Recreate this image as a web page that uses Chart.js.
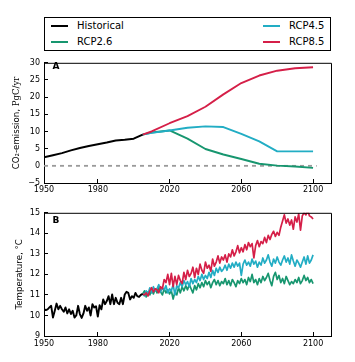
<!DOCTYPE html>
<html><head><meta charset="utf-8">
<script src="https://cdn.jsdelivr.net/npm/chart.js@4.4.1/dist/chart.umd.min.js"></script>
<style>
html,body{margin:0;padding:0;background:#fff;width:355px;height:362px;overflow:hidden;font-family:"DejaVu Sans",sans-serif;}
#legend{position:absolute;left:44px;top:17px;width:285px;height:32px;border:1px solid #000;}
.item{position:absolute;font-size:10px;line-height:12px;color:#000;white-space:nowrap;}
.sw{position:absolute;width:17px;height:2px;}
canvas{position:absolute;left:0;}
</style></head><body>
<div id="legend"></div>
<canvas id="a" width="355" height="150" style="top:50px"></canvas>
<canvas id="b" width="355" height="162" style="top:200px"></canvas>
<script>
// ---------- data ----------
const seriesNames = ['Historical', 'RCP2.6', 'RCP4.5', 'RCP8.5'];
const seriesColors = ['#000000', '#17966f', '#22adc4', '#d51f48'];

const xTicks = [1950, 1980, 2020, 2060, 2100];
const emisYTicks = [-5, 0, 5, 10, 15, 20, 25, 30];
const tempYTicks = [9, 10, 11, 12, 13, 14, 15];

const histEmisYears = [1950, 1955, 1960, 1965, 1970, 1975, 1980, 1985, 1990, 1995, 2000, 2005];
const histEmis      = [2.5, 3.1, 3.7, 4.5, 5.2, 5.8, 6.3, 6.8, 7.4, 7.6, 7.9, 9.1];

const scenEmisYears = [2005, 2010, 2020, 2030, 2040, 2050, 2060, 2070, 2080, 2090, 2100];
const rcp26Emis = [9.1, 9.7, 10.3, 7.9, 4.9, 3.3, 2.0, 0.6, 0.05, -0.2, -0.6];
const rcp45Emis = [9.1, 9.6, 10.3, 11.1, 11.5, 11.3, 9.3, 7.1, 4.2, 4.2, 4.2];
const rcp85Emis = [9.1, 10.0, 12.4, 14.5, 17.2, 20.8, 24.1, 26.3, 27.7, 28.4, 28.7];

const zeroLineYears = [1950, 2102];
const zeroLineValues = [0, 0];

const histTempStart = 1950;
const histTemp = [10.31, 10.26, 10.3, 10.39, 10.47, 9.9, 10.23, 10.58, 10.3, 10.47,
  10.3, 10.18, 10.39, 10.1, 10.3, 10.07, 10.23, 9.9, 10.0, 10.47,
  10.07, 9.88, 10.1, 10.47, 10.23, 10.39, 10.0, 10.55, 10.39, 10.45,
  9.95, 10.5, 10.3, 10.78, 10.55, 10.7, 10.94, 10.55, 11.02, 10.55,
  10.86, 10.62, 10.55, 10.86, 10.55, 11.02, 11.15, 11.1, 10.78, 10.94,
  10.86, 11.1, 10.94, 10.9, 11.0, 11.05];

const scenTempStart = 2005;
const rcp85Temp = [11.05, 11.0, 11.1, 10.95, 11.2, 11.35, 11.15, 11.3, 11.25, 11.1,
  11.4, 11.3, 11.75, 11.6, 12.0, 11.5, 12.05, 11.4, 11.9, 11.5,
  11.95, 11.7, 11.55, 12.1, 11.75, 12.2, 11.9, 12.05, 12.35, 11.85,
  12.3, 12.0, 12.5, 12.2, 12.05, 12.6, 12.3, 12.45, 12.15, 12.75,
  12.4, 12.6, 12.9, 12.55, 12.85, 12.7, 12.95, 12.6, 13.0, 12.85,
  13.2, 12.9, 13.1, 13.4, 13.05, 13.3, 13.1, 13.45, 13.2, 13.55,
  13.35, 13.5, 12.8, 13.4, 13.65, 13.35, 13.6, 13.5, 13.8, 13.55,
  13.9, 13.7, 13.95, 14.1, 13.85, 14.05, 13.9, 14.3, 14.6, 14.9,
  14.5, 14.7, 14.4, 14.65, 14.2, 14.8, 14.55, 14.95, 14.15, 14.85,
  15.0, 14.9, 15.1, 14.85, 14.8, 14.7];
const rcp45Temp = [11.05, 10.95, 11.2, 11.05, 11.35, 11.1, 11.4, 11.2, 11.3, 11.5,
  11.15, 11.35, 11.25, 11.45, 11.1, 11.3, 11.2, 11.5, 11.0, 11.45,
  11.35, 11.6, 11.4, 11.7, 11.5, 11.65, 11.4, 11.8, 11.55, 11.75,
  11.6, 11.9, 11.7, 12.0, 11.75, 11.95, 11.8, 12.1, 11.85, 12.2,
  11.95, 12.3, 12.1, 12.35, 12.15, 12.25, 12.45, 12.2, 12.5, 12.3,
  12.55, 12.35, 12.6, 12.4, 12.55, 11.95, 12.5, 12.7, 12.45, 12.6,
  12.4, 12.75, 12.5, 12.65, 12.35, 12.6, 12.45, 12.8, 12.55, 12.7,
  12.95, 12.6, 12.4, 12.75, 12.55, 12.85, 12.6, 12.45, 12.7, 12.9,
  12.6, 12.8, 12.5, 12.95, 12.65, 12.4, 12.7, 12.55, 12.35, 12.6,
  12.85, 12.5, 12.9, 12.55, 12.7, 12.95];
const rcp26Temp = [11.05, 11.2, 10.9, 11.15, 11.0, 11.25, 11.05, 11.3, 11.1, 11.35,
  11.15, 11.0, 11.3, 11.1, 11.25, 11.05, 11.2, 10.8, 11.15, 11.0,
  11.35, 11.1, 11.4, 11.2, 11.45, 11.25, 11.5, 11.3, 11.1, 11.45,
  11.25, 11.55, 11.35, 11.6, 11.4, 11.7, 11.5, 11.65, 11.35, 11.6,
  11.75, 11.5, 11.7, 11.45, 11.65, 11.55, 11.8, 11.5, 11.7, 11.45,
  11.75, 11.6, 11.4, 11.7, 11.55, 11.8, 11.6, 11.75, 11.5, 11.85,
  11.65, 12.0, 11.6, 11.75, 11.5, 11.8, 11.6, 11.9, 11.7, 11.85,
  12.05, 11.7, 11.45, 11.9, 12.1, 11.75, 11.95, 11.6, 11.8, 11.55,
  11.9, 11.7, 11.5, 11.65, 11.55, 11.75, 11.6, 11.85, 11.55, 11.7,
  11.95, 11.7, 11.85, 11.6, 11.75, 11.55];

// ---------- legend ----------
const legendPos = [[6, 32, 7, 2], [6, 32, 23, 18], [218, 244, 7, 2], [218, 244, 23, 18]];
const lg = document.getElementById('legend');
seriesNames.forEach((n, i) => {
  const p = legendPos[i];
  const sw = document.createElement('div');
  sw.className = 'sw'; sw.style.left = p[0] + 'px'; sw.style.top = p[2] + 'px';
  sw.style.background = seriesColors[i];
  lg.appendChild(sw);
  const t = document.createElement('div');
  t.className = 'item'; t.style.left = p[1] + 'px'; t.style.top = p[3] + 'px';
  t.textContent = n;
  lg.appendChild(t);
});

// ---------- helpers ----------
const pts = (ys, vs) => vs.map((v, i) => ({x: ys[i], y: v}));
const yearly = (start, vs) => vs.map((v, i) => ({x: start + i, y: v}));
const FONT = 'DejaVu Sans';
const tickFont = {family: FONT, size: 8};

function line(data, color, w, extra) {
  return Object.assign({data, borderColor: color, borderWidth: w, pointRadius: 0,
    tension: 0, fill: false, borderJoinStyle: 'round'}, extra || {});
}
function xScale(h, pad) {
  return {type: 'linear', min: 1950, max: 2110,
    afterBuildTicks: s => { s.ticks = xTicks.map(v => ({value: v})); },
    afterFit: s => { s.height = h; },
    grid: {drawOnChartArea: false, drawTicks: true, tickLength: -4, color: '#000', lineWidth: 1},
    border: {display: true, color: '#000', width: 1},
    ticks: {color: '#000', font: tickFont, padding: pad, maxRotation: 0, autoSkip: false,
      callback: v => String(v)}};
}
function yScale(min, max, ticks) {
  return {type: 'linear', min, max,
    afterBuildTicks: s => { s.ticks = ticks.map(v => ({value: v})); },
    afterFit: s => { s.width = 44; },
    grid: {drawOnChartArea: false, drawTicks: true, tickLength: -4, color: '#000', lineWidth: 1},
    border: {display: true, color: '#000', width: 1},
    ticks: {color: '#000', font: tickFont, padding: 8, autoSkip: false,
      callback: v => String(v).replace('-', '\u2212')}};
}
function decor(label, labelY, titleParts, titleX) {
  return {id: 'decor' + label, afterDraw(chart) {
    const ctx = chart.ctx, a = chart.chartArea;
    ctx.save();
    ctx.strokeStyle = '#000'; ctx.lineWidth = 1;
    ctx.beginPath();
    ctx.moveTo(a.left, a.top + 0.5); ctx.lineTo(a.right + 0.5, a.top + 0.5);
    ctx.lineTo(a.right + 0.5, a.bottom);
    ctx.stroke();
    ctx.fillStyle = '#000';
    ctx.font = 'bold 9px "' + FONT + '"';
    ctx.textBaseline = 'alphabetic'; ctx.textAlign = 'left';
    ctx.fillText(label, a.left + 8.5, labelY);
    // y title
    ctx.translate(titleX, (a.top + a.bottom) / 2);
    ctx.rotate(-Math.PI / 2);
    ctx.textBaseline = 'middle';
    let total = 0;
    titleParts.forEach(p => { ctx.font = p[1]; total += ctx.measureText(p[0]).width; });
    let x = -total / 2;
    titleParts.forEach(p => { ctx.font = p[1]; ctx.fillText(p[0], x, 0); x += ctx.measureText(p[0]).width; });
    ctx.restore();
  }};
}

// ---------- chart A ----------
new Chart(document.getElementById('a'), {
  type: 'line',
  data: {datasets: [
    line(pts(histEmisYears, histEmis), seriesColors[0], 2),
    line(pts(scenEmisYears, rcp85Emis), seriesColors[3], 1.9),
    line(pts(scenEmisYears, rcp45Emis), seriesColors[2], 1.9),
    line(pts(scenEmisYears, rcp26Emis), seriesColors[1], 1.9),
    line(pts(zeroLineYears, zeroLineValues), '#9a9a9a', 1.8, {borderDash: [4, 4]})
  ]},
  options: {responsive: false, devicePixelRatio: 1, animation: false,
    layout: {padding: {top: 6, right: 24, left: 0, bottom: 0}},
    plugins: {legend: {display: false}, tooltip: {enabled: false}},
    scales: {x: xScale(17, 6), y: yScale(-5, 30, emisYTicks)}},
  plugins: [decor('A', 19, [['CO\u2082-emission, ', '8.6px "DejaVu Sans"'], ['PgC/yr', '8.6px "DejaVu Serif"']], 17)]
});

// ---------- chart B ----------
new Chart(document.getElementById('b'), {
  type: 'line',
  data: {datasets: [
    line(yearly(histTempStart, histTemp), seriesColors[0], 1.9),
    line(yearly(scenTempStart, rcp85Temp), seriesColors[3], 1.7),
    line(yearly(scenTempStart, rcp45Temp), seriesColors[2], 1.7),
    line(yearly(scenTempStart, rcp26Temp), seriesColors[1], 1.7)
  ]},
  options: {responsive: false, devicePixelRatio: 1, animation: false,
    layout: {padding: {top: 9, right: 24, left: 0, bottom: 0}},
    plugins: {legend: {display: false}, tooltip: {enabled: false}},
    scales: {x: xScale(26, 7.5), y: yScale(9, 15, tempYTicks)}},
  plugins: [decor('B', 23, [['Temperature, \u00B0C', '8.6px "DejaVu Sans"']], 19.5)]
});
</script>
</body></html>
